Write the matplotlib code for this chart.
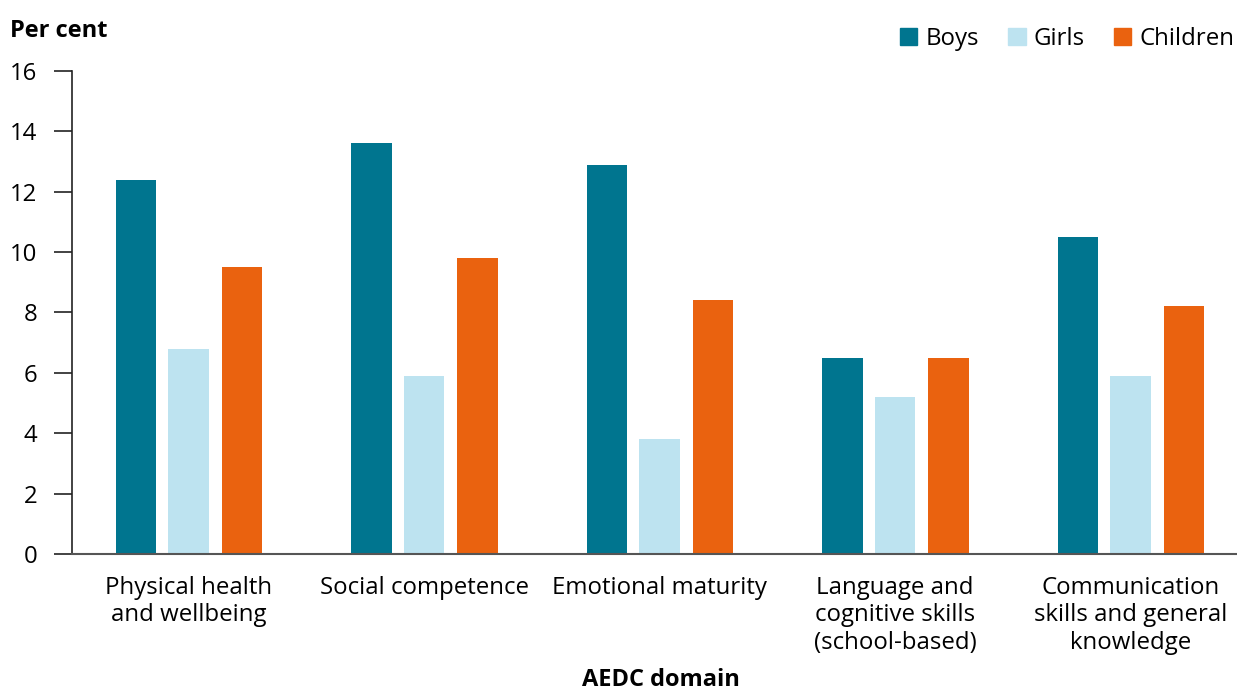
import matplotlib
matplotlib.use('Agg')
from matplotlib import pyplot as plt
from matplotlib.patches import Patch
import numpy as np

plt.rcParams['font.family'] = ['Open Sans', 'DejaVu Sans']

categories = ['Physical health\nand wellbeing', 'Social competence', 'Emotional maturity',
              'Language and\ncognitive skills\n(school-based)',
              'Communication\nskills and general\nknowledge']
boys = [12.4, 13.6, 12.9, 6.5, 10.5]
girls = [6.8, 5.9, 3.8, 5.2, 5.9]
children = [9.5, 9.8, 8.4, 6.5, 8.2]

series = [('Boys', boys, '#00758F'), ('Girls', girls, '#BDE3F0'), ('Children', children, '#EA620F')]

fig = plt.figure(figsize=(12.37, 6.91), dpi=100)
ax = fig.add_axes([0.0582, 0.1983, 0.9418, 0.699])

x = np.arange(len(categories))
offsets = [-0.223, 0.0, 0.227]
for (name, vals, color), off in zip(series, offsets):
    ax.bar(x + off, vals, width=0.172, color=color, label=name)

ax.set_xlim(-0.495, 4.452)
ax.set_ylim(0, 16)
ax.set_yticks(range(0, 17, 2))
ax.set_xticks(x)
ax.set_xticklabels(categories, fontsize=17.3, linespacing=1.18)
ax.tick_params(axis='x', length=0, pad=16)
ax.tick_params(axis='y', labelsize=17.3, length=13, width=1.2, pad=12, color='#222222')

for s in ['top', 'right']:
    ax.spines[s].set_visible(False)
ax.spines['left'].set_color('#222222')
ax.spines['left'].set_linewidth(1.2)
ax.spines['bottom'].set_color('#555555')
ax.spines['bottom'].set_linewidth(1.5)

fig.text(10 / 1237, 1 - 31 / 691, 'Per cent', fontsize=17, fontweight='bold', va='center', ha='left')
fig.text(661 / 1237, 1 - 680 / 691, 'AEDC domain', fontsize=17, fontweight='bold', va='center', ha='center')

handles = [Patch(color=c, label=n) for n, _, c in series]
fig.legend(handles=handles, loc='center right', bbox_to_anchor=(1.0, 1 - 39 / 691), ncol=3,
           frameon=False, fontsize=17.3, handlelength=0.72, handleheight=0.72, handletextpad=0.35,
           columnspacing=1.2, borderaxespad=0, borderpad=0.1)

fig.savefig('out.png', dpi=100)
